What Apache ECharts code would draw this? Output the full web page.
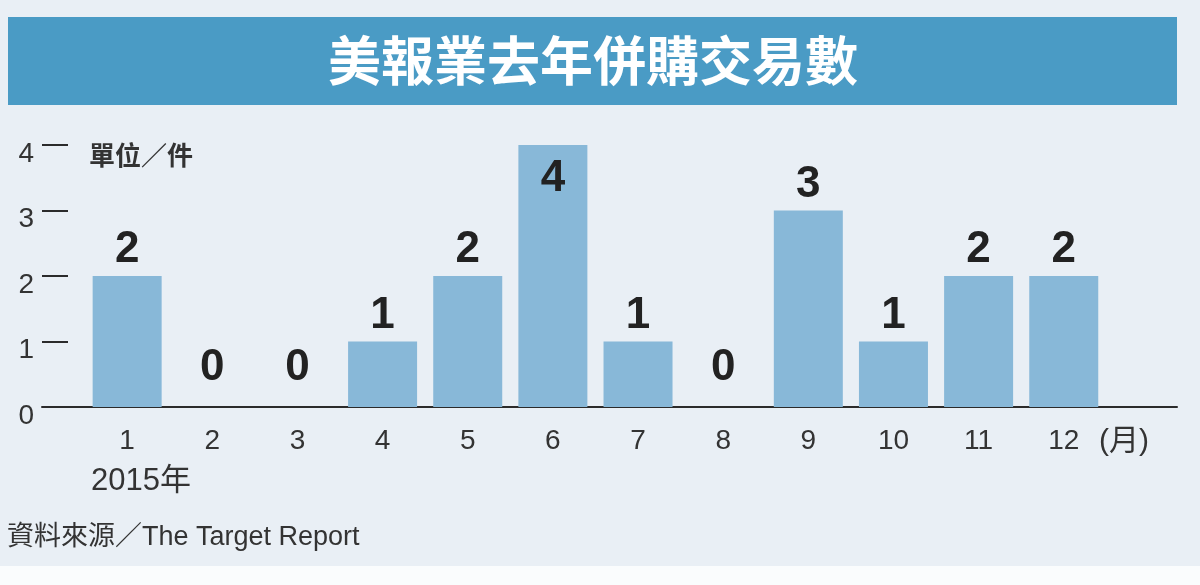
<!DOCTYPE html>
<html lang="zh-Hant">
<head>
    <meta charset="UTF-8">
    <title>美報業去年併購交易數</title>
    <script src="https://cdn.jsdelivr.net/npm/echarts@6/dist/echarts.min.js"></script>
    <style>
        html, body { margin: 0; padding: 0; background: #e9eff5; }
    </style>
</head>
<body>
    <div id="main" style="width: 1200px;height:585px;"></div>
    <script type="text/javascript">
        // 資料
        var months = [1, 2, 3, 4, 5, 6, 7, 8, 9, 10, 11, 12];
        var deals = [2, 0, 0, 1, 2, 4, 1, 0, 3, 1, 2, 2];
        var yTicks = [0, 1, 2, 3, 4];

        var FONT = "'Liberation Sans', Arial, 'Noto Sans CJK TC', sans-serif";
        var CJK = "'Noto Sans CJK TC', 'Liberation Sans', sans-serif";
        var yMax = yTicks[yTicks.length - 1];

        var myChart = echarts.init(document.getElementById('main'));

        var barData = months.map(function (m, i) {
            var v = deals[i];
            var lab = { position: 'top', distance: 4 };
            if (v === 0) lab = { position: 'top', distance: 17 };
            if (v === yMax) lab = { position: 'insideTop', distance: 12 };
            return { value: [m, v], label: lab };
        });

        option = {
            backgroundColor: '#e9eff5',
            animation: false,
            grid: { left: 42, right: 23, top: 145, bottom: 178 },
            xAxis: {
                type: 'value',
                min: 0,
                max: 13.33,
                interval: 1,
                splitLine: { show: false },
                axisTick: { show: false },
                axisLine: { show: true, lineStyle: { color: '#2b2b2b', width: 2 } },
                axisLabel: {
                    margin: 20,
                    fontSize: 28,
                    color: '#333',
                    fontFamily: FONT,
                    showMaxLabel: false,
                    formatter: function (v) {
                        return months.indexOf(v) >= 0 ? String(v) : '';
                    }
                }
            },
            yAxis: {
                type: 'value',
                min: yTicks[0],
                max: yMax,
                interval: 1,
                splitLine: { show: false },
                axisLine: { show: false },
                axisTick: { show: true, inside: true, length: 26, lineStyle: { color: '#2b2b2b', width: 2 } },
                axisLabel: {
                    margin: 8,
                    fontSize: 28,
                    color: '#333',
                    fontFamily: FONT,
                    verticalAlign: 'top',
                    lineHeight: 18
                }
            },
            series: [{
                type: 'bar',
                barWidth: 69,
                data: barData,
                itemStyle: { color: '#88b8d8' },
                label: {
                    show: true,
                    fontSize: 44,
                    fontWeight: 'bold',
                    color: '#222',
                    fontFamily: FONT,
                    formatter: function (p) { return p.value[1]; }
                }
            }],
            graphic: [
                { type: 'rect', shape: { x: 8, y: 17, width: 1169, height: 88 }, style: { fill: '#4a9bc5' } },
                { type: 'text', x: 593, y: 61, style: { text: '美報業去年併購交易數', fill: '#fff', font: 'bold 53px ' + CJK, textAlign: 'center', textVerticalAlign: 'middle' } },
                { type: 'text', x: 89, y: 155, style: { text: '單位／件', fill: '#333', font: 'bold 26px ' + CJK, textVerticalAlign: 'middle' } },
                { type: 'text', x: 91, y: 481, style: { text: '2015年', fill: '#333', font: '31px ' + FONT, textVerticalAlign: 'middle' } },
                { type: 'text', x: 1099, y: 442, style: { text: '(月)', fill: '#333', font: '30px ' + FONT, textVerticalAlign: 'middle' } },
                { type: 'text', x: 7, y: 538, style: { text: '資料來源／The Target Report', fill: '#333', font: '27px ' + FONT, textVerticalAlign: 'middle' } },
                { type: 'rect', shape: { x: 0, y: 566, width: 1200, height: 19 }, style: { fill: '#fafcfd' } }
            ]
        };

        myChart.setOption(option);
    </script>
</body>
</html>
